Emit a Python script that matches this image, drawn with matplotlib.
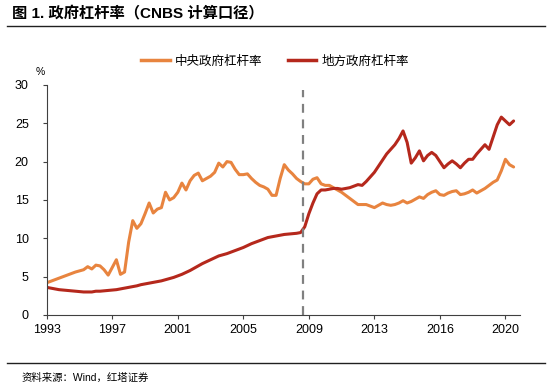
import matplotlib
matplotlib.use("Agg")
from matplotlib import pyplot as plt
from matplotlib.lines import Line2D

plt.rcParams['font.family'] = ['Liberation Sans', 'Noto Sans CJK SC', 'DejaVu Sans']

# quarterly index, ticks every 16 points
tick_labels = ["1993", "1997", "2001", "2005", "2009", "2013", "2016", "2020"]

central = [4.2, 4.4, 4.6, 4.8, 5.0, 5.2, 5.4, 5.6, 5.75, 5.9,
           6.3, 6.0, 6.5, 6.4, 5.9, 5.2, 6.2, 7.2, 5.3, 5.6,
           9.5, 12.3, 11.3, 11.9, 13.2, 14.6, 13.3, 13.8, 14.0, 16.0,
           15.0, 15.3, 16.0, 17.2, 16.3, 17.5, 18.2, 18.5, 17.5, 17.8,
           18.1, 18.6, 19.8, 19.3, 20.0, 19.9, 19.0, 18.3, 18.3, 18.4,
           17.8, 17.3, 16.9, 16.7, 16.4, 15.6, 15.6, 17.8, 19.6, 18.9,
           18.4, 17.8, 17.4, 17.1, 17.1, 17.7, 17.9, 17.1, 16.9, 16.9,
           16.6, 16.3, 16.0, 15.6, 15.2, 14.8, 14.4, 14.4, 14.4, 14.2,
           14.0, 14.3, 14.6, 14.4, 14.3, 14.4, 14.6, 14.9, 14.6, 14.8,
           15.1, 15.4, 15.2, 15.7, 16.0, 16.2, 15.7, 15.6, 15.9, 16.1,
           16.2, 15.7, 15.8, 16.0, 16.3, 15.9, 16.2, 16.5, 16.9, 17.3,
           17.6, 18.8, 20.3, 19.6, 19.3]

local = [3.6, 3.5, 3.4, 3.3, 3.25, 3.2, 3.15, 3.1, 3.05, 3.0,
         3.0, 3.0, 3.1, 3.1, 3.15, 3.2, 3.25, 3.3, 3.4, 3.5,
         3.6, 3.7, 3.8, 3.95, 4.05, 4.15, 4.25, 4.35, 4.45, 4.6,
         4.75, 4.9, 5.1, 5.3, 5.55, 5.8, 6.1, 6.4, 6.7, 6.95,
         7.2, 7.45, 7.7, 7.85, 8.0, 8.2, 8.4, 8.6, 8.8, 9.05,
         9.3, 9.5, 9.7, 9.9, 10.1, 10.2, 10.3, 10.4, 10.5, 10.55,
         10.6, 10.65, 10.75, 11.5, 13.2, 14.6, 15.8, 16.3, 16.3, 16.4,
         16.5, 16.5, 16.4, 16.5, 16.6, 16.8, 17.0, 16.9, 17.4, 18.0,
         18.6, 19.4, 20.2, 21.0, 21.6, 22.2, 23.0, 24.0, 22.5, 19.8,
         20.5, 21.4, 20.1, 20.8, 21.2, 20.8, 20.0, 19.2, 19.7, 20.1,
         19.7, 19.2, 19.8, 20.3, 20.3, 21.0, 21.6, 22.2, 21.6, 23.2,
         24.8, 25.8, 25.3, 24.8, 25.3]

crisis_idx = 62.5  # 2008 dashed marker

orange = "#E8843F"
red = "#B5281C"

fig = plt.figure(figsize=(5.5, 3.86), dpi=100)
ax = fig.add_axes([0.085, 0.184, 0.86, 0.596])

x = list(range(len(central)))
ax.plot(x, central, color=orange, lw=2.2, solid_capstyle='round')
ax.plot(x, local, color=red, lw=2.2, solid_capstyle='round')
ax.plot([crisis_idx, crisis_idx], [0, 29.4], color="#808080", lw=1.6, ls=(0, (4, 3)))

ax.set_xlim(0, 115.5)
ax.set_ylim(0, 30)
ax.set_xticks([i * 16 for i in range(len(tick_labels))])
ax.set_xticklabels(tick_labels)
ax.set_yticks(range(0, 31, 5))
for s in ["top", "right"]:
    ax.spines[s].set_visible(False)
for s in ["left", "bottom"]:
    ax.spines[s].set_color("#404040")
    ax.spines[s].set_linewidth(0.8)
ax.tick_params(axis='both', labelsize=9, color="#404040", length=3, width=0.8)
ax.tick_params(axis='y', pad=10)

handles = [Line2D([], [], color=orange, lw=2.5), Line2D([], [], color=red, lw=2.5)]
fig.legend(handles, ["中央政府杠杆率", "地方政府杠杆率"], loc='center',
           bbox_to_anchor=(0.5, 0.84), ncol=2, frameon=False, fontsize=9,
           handlelength=2.3, handletextpad=0.4, columnspacing=2.0)

fig.text(0.073, 0.813, "%", fontsize=7.5, ha='center', va='center')

fig.text(0.022, 0.965, "图 1. 政府杠杆率（CNBS 计算口径）", fontsize=11, fontweight='bold',
         ha='left', va='center')
fig.add_artist(Line2D([0.013, 0.99], [0.933, 0.933], color="#202020", lw=1.0))
fig.add_artist(Line2D([0.013, 0.99], [0.06, 0.06], color="#202020", lw=1.0))
fig.text(0.04, 0.022, "资料来源：Wind，红塔证券", fontsize=7.5, ha='left', va='center')

fig.savefig("out.png", dpi=100)
